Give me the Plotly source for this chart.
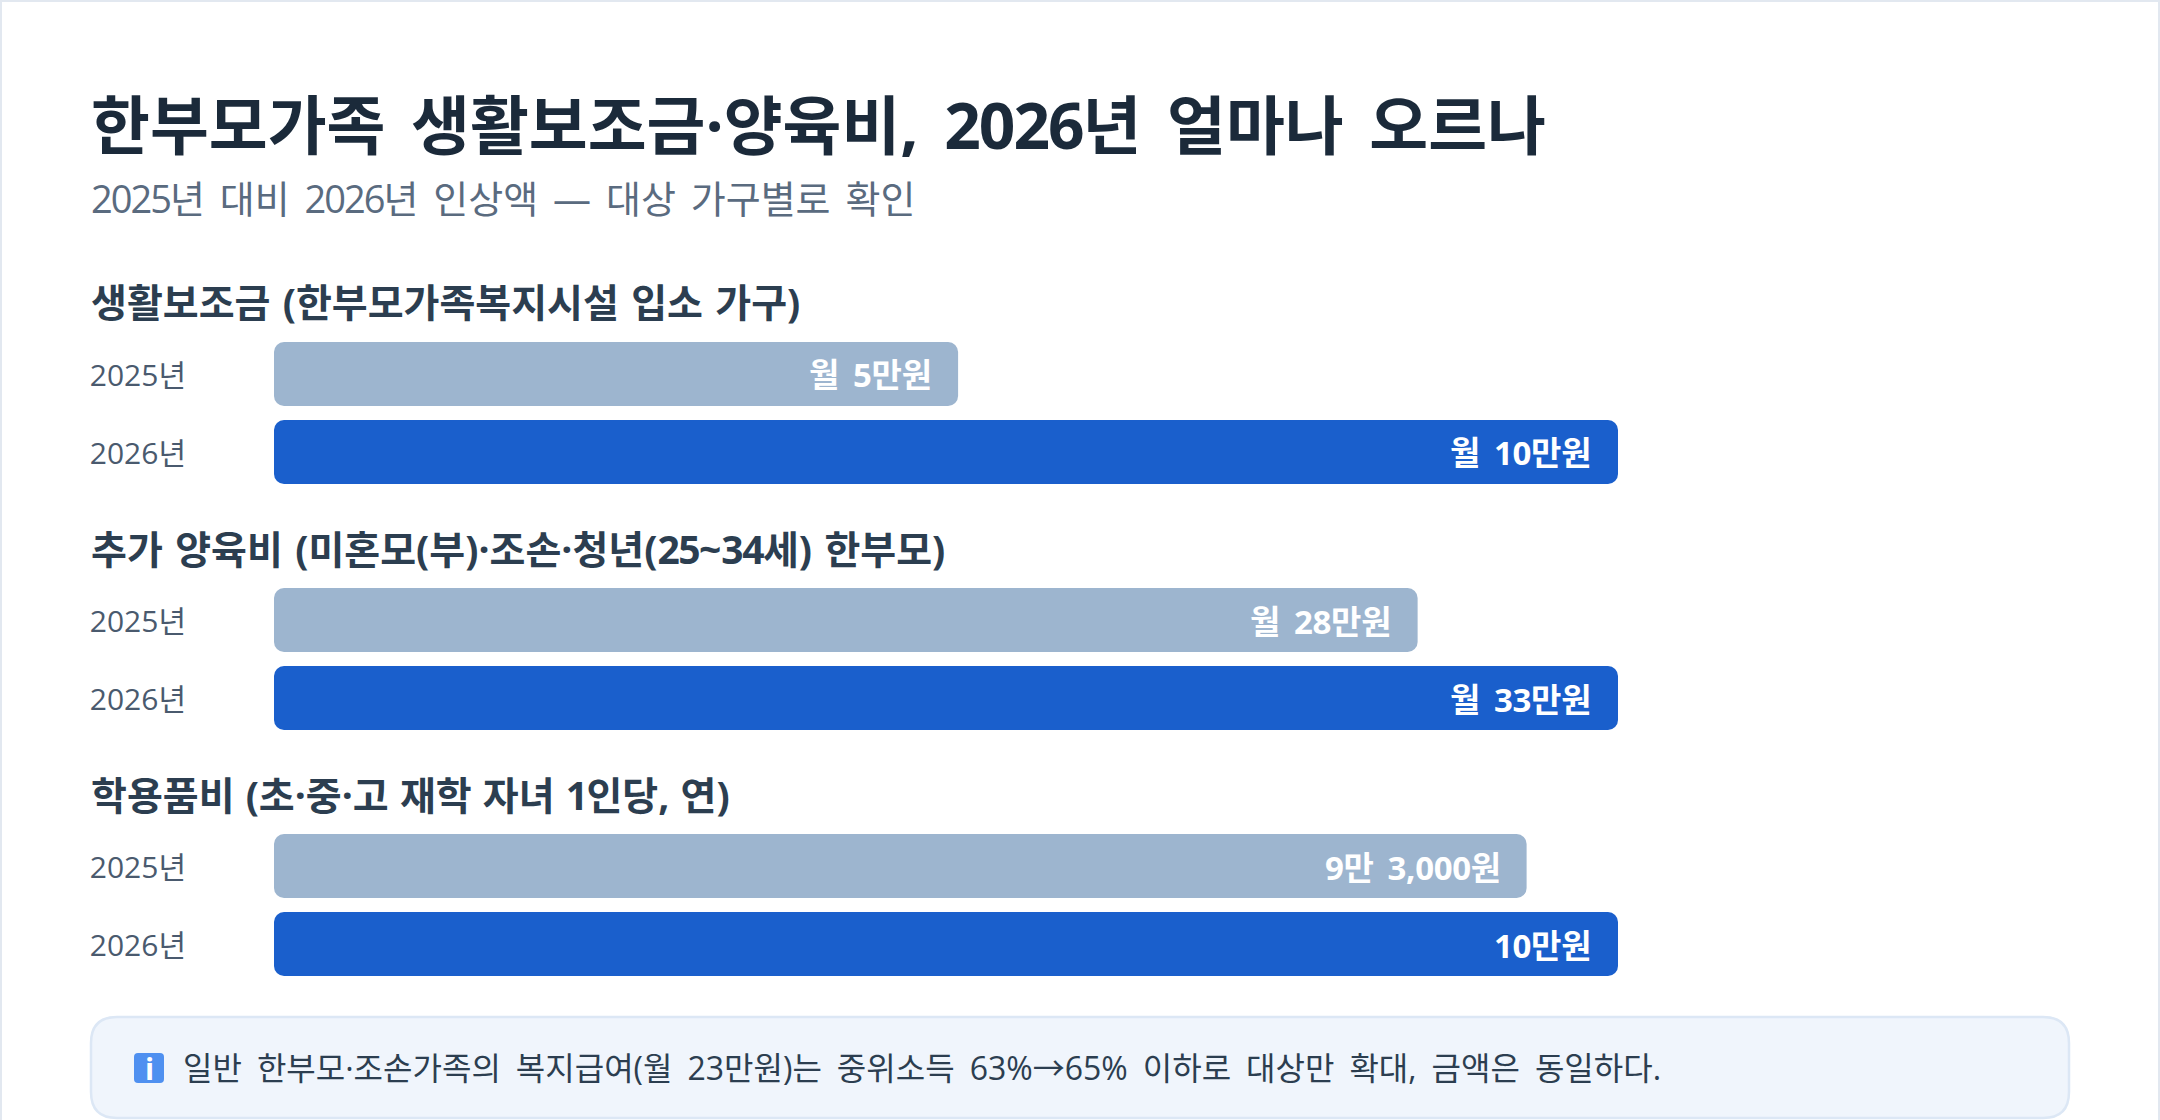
import re
import plotly.graph_objects as go

FONT = "Open Sans, Noto Sans CJK KR"
title = "한부모가족 생활보조금·양육비, 2026년 얼마나 오르나"
subtitle = "2025년 대비 2026년 인상액 — 대상 가구별로 확인"
note = "일반 한부모·조손가족의 복지급여(월 23만원)는 중위소득 63%→65% 이하로 대상만 확대, 금액은 동일하다."
years = ["2025년", "2026년"]
section_titles = [
    "생활보조금 (한부모가족복지시설 입소 가구)",
    "추가 양육비 (미혼모(부)·조손·청년(25~34세) 한부모)",
    "학용품비 (초·중·고 재학 자녀 1인당, 연)",
]
values_2025 = [5.09, 28.08, 9.32]
values_2026 = [10, 33, 10]
labels_2025 = ["월 5만원", "월 28만원", "9만 3,000원"]
labels_2026 = ["월 10만원", "월 33만원", "10만원"]
colors = ["#9DB5CF", "#1A5FCC"]

W, H = 2160, 1120
BAR_L, BAR_R = 274, 1618
bands = [(335, 491), (581, 737), (827, 983)]
section_y = [301, 548, 794]
section_word = [2.2, 2.3, 1]
RADIUS = 10

def X(p): return p / W
def Y(p): return 1 - p / H

def styled(text, word=0, digit=0):
    parts = re.split(r"(\d+)", text)
    out = []
    for p in parts:
        if not p:
            continue
        ls = digit if p.isdigit() else 0
        out.append(f'<span style="word-spacing:{word}px;letter-spacing:{ls}px">{p}</span>')
    return "".join(out)

def rrect(x0, y0, x1, y1, r):
    a, b, c, d = X(x0), Y(y0), X(x1), Y(y1)
    rx, ry = r / W, r / H
    return (f"M{a+rx},{b} L{c-rx},{b} Q{c},{b} {c},{b-ry} L{c},{d+ry} Q{c},{d} {c-rx},{d} "
            f"L{a+rx},{d} Q{a},{d} {a},{d+ry} L{a},{b-ry} Q{a},{b} {a+rx},{b} Z")

fig = go.Figure()
annotations = []
layout_axes = {}
for i, (y0, y1) in enumerate(bands):
    n = "" if i == 0 else str(i + 1)
    vals = [values_2025[i], values_2026[i]]
    # an explicit base makes plotly round both ends of the bar
    fig.add_trace(go.Bar(
        x=vals, y=years, base=[0, 0], orientation="h",
        xaxis=f"x{n}", yaxis=f"y{n}",
        marker=dict(color=colors, cornerradius=RADIUS, line_width=0),
        width=64 / 78, hoverinfo="skip", showlegend=False,
    ))
    layout_axes[f"xaxis{n}"] = dict(domain=[X(BAR_L), X(BAR_R)], range=[0, max(vals)],
                                    visible=False, fixedrange=True, anchor=f"y{n}")
    layout_axes[f"yaxis{n}"] = dict(domain=[Y(y1), Y(y0)], autorange="reversed", anchor=f"x{n}",
                                    showgrid=False, zeroline=False, showline=False, ticks="",
                                    ticklabelstandoff=87, ticklabelshift=-1, fixedrange=True,
                                    tickfont=dict(family=FONT, size=30, color="#4A5A6E"))
    for yr, v, lab in zip(years, vals, [labels_2025[i], labels_2026[i]]):
        annotations.append(dict(x=v, y=yr, xref=f"x{n}", yref=f"y{n}",
                                text=f"<b>{styled(lab, word=5, digit=-0.4)}</b>",
                                xanchor="right", yanchor="middle", xshift=-24, yshift=-1,
                                showarrow=False,
                                font=dict(family=FONT, size=33, color="#FFFFFF")))
    annotations.append(dict(x=X(89), y=Y(section_y[i]), xref="paper", yref="paper",
                            text=f"<b>{styled(section_titles[i], word=section_word[i], digit=-1.5)}</b>",
                            xanchor="left", yanchor="middle",
                            showarrow=False, font=dict(family=FONT, size=39, color="#2C3E50")))

annotations += [
    dict(x=X(89), y=Y(124), xref="paper", yref="paper",
         text=f"<b>{styled(title, word=9, digit=-2)}</b>",
         xanchor="left", yanchor="middle", showarrow=False,
         font=dict(family=FONT, size=64, color="#1B2A3A")),
    dict(x=X(89), y=Y(198), xref="paper", yref="paper", text=styled(subtitle, word=5, digit=-2),
         xanchor="left", yanchor="middle", showarrow=False,
         font=dict(family=FONT, size=38, color="#5A6B7F")),
    dict(x=X(181), y=Y(1067), xref="paper", yref="paper", text=styled(note, word=6.7, digit=0),
         xanchor="left", yanchor="middle", showarrow=False,
         font=dict(family=FONT, size=32, color="#2C3E50")),
    dict(x=X(149), y=Y(1068), xref="paper", yref="paper", text="<b>i</b>", xanchor="center",
         yanchor="middle", showarrow=False, font=dict(family="Open Sans", size=30, color="#FFFFFF")),
]

shapes = [
    dict(type="path", xref="paper", yref="paper", path=rrect(91, 1017, 2069, 1118, 26),
         fillcolor="#F0F5FC", line=dict(color="#DCE7F5", width=2.5), layer="below"),
    dict(type="path", xref="paper", yref="paper", path=rrect(134, 1053, 164, 1083, 4),
         fillcolor="#4F90F0", line_width=0, layer="below"),
    dict(type="rect", xref="paper", yref="paper", x0=0, x1=X(2), y0=0, y1=1,
         fillcolor="#E2E8F0", line_width=0, layer="below"),
    dict(type="rect", xref="paper", yref="paper", x0=X(2158), x1=1, y0=0, y1=1,
         fillcolor="#E2E8F0", line_width=0, layer="below"),
    dict(type="rect", xref="paper", yref="paper", x0=0, x1=1, y0=Y(2), y1=1,
         fillcolor="#E2E8F0", line_width=0, layer="below"),
]

fig.update_layout(
    width=W, height=H, margin=dict(l=0, r=0, t=0, b=0), paper_bgcolor="#FFFFFF",
    plot_bgcolor="rgba(0,0,0,0)", annotations=annotations, shapes=shapes, barmode="overlay",
    font=dict(family=FONT), **layout_axes,
)
fig.write_html("out.html", config={"displayModeBar": False},
               post_script="document.body.style.margin='0';document.body.style.overflow='hidden';")
